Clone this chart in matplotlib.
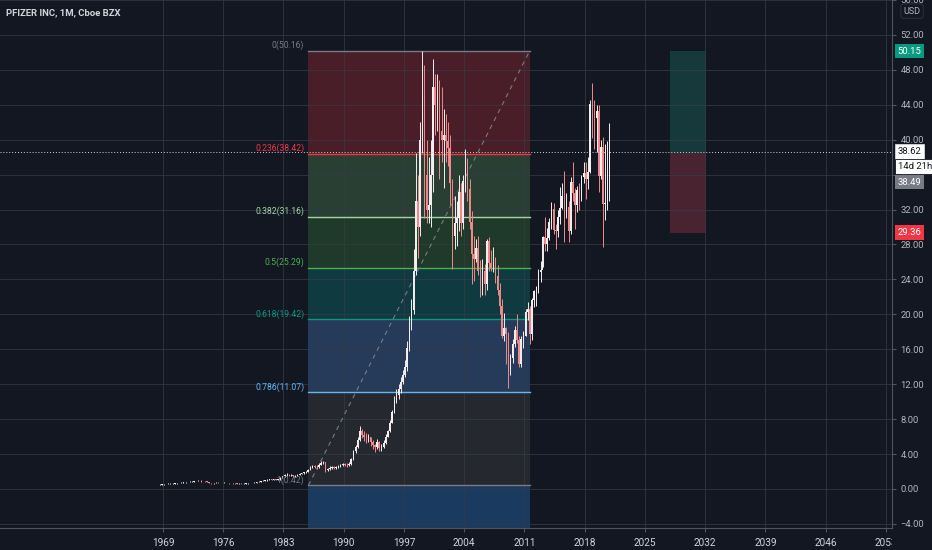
import matplotlib
matplotlib.use("Agg")
import matplotlib.pyplot as plt
import matplotlib.transforms as mtransforms
import numpy as np

# quarterly closes / highs / lows, 1968 Q1 .. 2020 Q4
closes = [
    0.45, 0.47, 0.50, 0.55,  0.55, 0.58, 0.60, 0.62,  0.62, 0.65, 0.68, 0.70,
    0.72, 0.75, 0.78, 0.80,  0.82, 0.85, 0.88, 0.92,  0.95, 0.90, 0.92, 0.88,
    0.80, 0.70, 0.65, 0.70,  0.72, 0.70, 0.68, 0.70,  0.70, 0.68, 0.66, 0.68,
    0.66, 0.64, 0.62, 0.62,  0.60, 0.62, 0.65, 0.66,  0.68, 0.70, 0.72, 0.78,
    0.85, 0.90, 0.95, 1.00,  1.05, 1.10, 1.05, 1.10,  1.05, 1.10, 1.25, 1.45,
    1.60, 1.65, 1.55, 1.60,  1.45, 1.50, 1.65, 1.75,  1.80, 1.90, 2.00, 2.20,
    2.45, 2.60, 2.55, 2.50,  2.80, 3.00, 3.05, 2.20,  2.30, 2.45, 2.50, 2.40,
    2.50, 2.60, 2.75, 2.85,  2.80, 2.70, 2.90, 3.40,  4.30, 4.80, 5.60, 6.60,
    6.20, 6.00, 5.80, 5.90,  5.40, 5.00, 4.80, 5.40,  4.70, 4.80, 5.30, 6.00,
    6.60, 7.60, 8.80, 10.20,  10.80, 11.40, 12.20, 13.00,  14.00, 16.20, 19.00, 20.50,
    25.00, 33.00, 30.00, 40.00,  45.00, 36.00, 32.00, 32.50,  36.00, 46.00, 44.00, 45.50,
    41.00, 40.00, 40.50, 39.80,  39.00, 35.00, 29.00, 30.50,  31.00, 34.00, 30.50, 35.30,
    36.50, 34.30, 30.60, 26.90,  26.30, 27.60, 25.00, 23.30,  25.00, 23.50, 28.40, 25.90,
    25.30, 25.60, 24.40, 22.80,  20.90, 17.50, 18.40, 17.70,  13.60, 15.00, 16.60, 18.20,
    17.10, 14.30, 17.20, 17.50,  20.30, 20.60, 17.70, 21.60,  22.70, 23.00, 24.80, 25.10,
    28.90, 28.00, 28.70, 30.60,  32.10, 29.70, 29.60, 31.20,  32.20, 33.50, 31.40, 32.30,
    29.60, 35.20, 33.90, 32.50,  34.20, 33.60, 35.70, 36.20,  35.50, 36.30, 44.10, 43.60,
    42.50, 43.30, 35.90, 39.20,  32.60, 32.70, 36.70, 38.62,
]
highs = [
    0.48, 0.50, 0.53, 0.58,  0.59, 0.61, 0.63, 0.66,  0.66, 0.68, 0.71, 0.74,
    0.76, 0.79, 0.82, 0.84,  0.86, 0.89, 0.93, 0.97,  1.02, 1.00, 0.97, 0.95,
    0.90, 0.82, 0.74, 0.74,  0.76, 0.75, 0.73, 0.74,  0.75, 0.73, 0.71, 0.72,
    0.70, 0.69, 0.66, 0.66,  0.65, 0.66, 0.69, 0.70,  0.72, 0.74, 0.77, 0.82,
    0.89, 0.95, 1.00, 1.06,  1.12, 1.16, 1.14, 1.16,  1.14, 1.16, 1.32, 1.52,
    1.70, 1.78, 1.70, 1.68,  1.62, 1.58, 1.72, 1.82,  1.88, 1.98, 2.10, 2.30,
    2.60, 2.80, 2.75, 2.70,  2.95, 3.15, 3.25, 3.10,  2.45, 2.60, 2.65, 2.60,
    2.65, 2.75, 2.90, 3.00,  3.00, 2.95, 3.05, 3.60,  4.50, 5.00, 5.90, 7.20,
    6.90, 6.60, 6.40, 6.30,  6.00, 5.60, 5.20, 5.70,  5.50, 5.10, 5.60, 6.30,
    6.80, 7.90, 9.10, 10.60,  11.40, 12.00, 12.80, 13.60,  14.80, 16.90, 19.80, 21.80,
    27.50, 38.50, 36.00, 42.00,  50.16, 48.50, 40.00, 38.00,  40.00, 49.30, 47.50, 47.50,
    46.80, 46.00, 43.50, 43.00,  42.00, 40.50, 35.50, 33.50,  33.00, 36.00, 35.00, 36.00,
    38.90, 37.90, 35.50, 31.80,  29.00, 28.60, 29.00, 26.20,  26.30, 25.80, 28.60, 28.90,
    27.40, 27.70, 26.60, 25.60,  23.60, 21.80, 20.10, 18.50,  18.00, 15.50, 17.20, 18.70,
    20.00, 17.50, 17.50, 18.10,  20.60, 21.40, 20.90, 21.90,  22.80, 23.20, 25.20, 26.10,
    29.00, 31.10, 29.90, 31.00,  32.90, 32.70, 30.40, 32.00,  34.60, 35.00, 36.40, 33.90,
    33.00, 35.70, 37.40, 34.50,  34.70, 35.00, 36.00, 37.40,  37.50, 38.00, 44.60, 46.50,
    44.50, 44.00, 44.00, 40.00,  40.30, 39.50, 39.80, 41.90,
]
lows = [
    0.40, 0.43, 0.45, 0.49,  0.51, 0.53, 0.56, 0.58,  0.57, 0.59, 0.62, 0.65,
    0.67, 0.70, 0.73, 0.75,  0.77, 0.80, 0.83, 0.86,  0.88, 0.85, 0.86, 0.82,
    0.76, 0.66, 0.58, 0.62,  0.66, 0.66, 0.64, 0.65,  0.66, 0.64, 0.62, 0.63,
    0.62, 0.60, 0.58, 0.58,  0.56, 0.57, 0.60, 0.61,  0.63, 0.65, 0.67, 0.70,
    0.76, 0.82, 0.87, 0.91,  0.96, 1.01, 0.98, 1.00,  0.98, 1.00, 1.05, 1.22,
    1.40, 1.52, 1.48, 1.50,  1.38, 1.40, 1.48, 1.60,  1.66, 1.74, 1.84, 1.95,
    2.15, 2.35, 2.35, 2.30,  2.45, 2.70, 2.85, 2.00,  2.10, 2.20, 2.30, 2.25,
    2.30, 2.40, 2.50, 2.60,  2.60, 2.55, 2.60, 2.75,  3.35, 4.10, 4.70, 5.50,
    5.80, 5.50, 5.30, 5.40,  4.90, 4.60, 4.20, 4.60,  4.40, 4.30, 4.70, 5.20,
    5.90, 6.50, 7.50, 8.70,  9.90, 10.30, 11.00, 12.00,  12.80, 13.50, 15.80, 18.20,
    20.00, 24.50, 26.50, 29.00,  38.50, 31.00, 30.50, 30.50,  30.00, 34.00, 40.50, 41.00,
    35.50, 37.50, 34.50, 37.50,  37.00, 32.50, 25.20, 27.50,  27.80, 29.50, 29.00, 29.80,
    34.00, 33.00, 29.80, 23.50,  23.80, 26.00, 24.50, 22.00,  22.20, 22.20, 22.80, 25.00,
    25.00, 24.80, 23.60, 22.20,  20.00, 17.30, 16.90, 14.30,  11.60, 13.00, 14.40, 16.30,
    16.70, 14.00, 14.00, 16.20,  17.50, 19.40, 16.60, 17.10,  20.80, 20.90, 22.40, 23.70,
    25.40, 27.30, 27.20, 28.50,  29.80, 29.20, 27.50, 28.90,  30.30, 32.10, 28.30, 31.00,
    28.30, 29.20, 33.00, 29.80,  31.70, 32.00, 33.00, 35.00,  33.20, 34.30, 36.20, 40.20,
    38.90, 38.60, 34.00, 35.50,  27.70, 30.80, 32.00, 33.00,
]
first_year = 1968
first_open = 0.42

# fibonacci retracement
fib_start, fib_end = 1985.9, 2011.6
fib_levels = [0, 0.236, 0.382, 0.5, 0.618, 0.786, 1, 1.618]
fib_prices = [50.16, 38.42, 31.16, 25.29, 19.42, 11.07, 0.42, -30.06]
fib_colors = ['#787b86', '#f23645', '#a5d6a7', '#4caf50', '#089981', '#64b5f6', '#787b86', '#2962ff']
zone_colors = ['#4a1e28', '#2a3f33', '#1f3a2a', '#0f3a40', '#263a5a', '#262830', '#1a3a60']

# long/short position box
pos_start, pos_end = 2027.9, 2032.07
target, entry, stop = 50.15, 38.49, 29.36
last_price = 38.62

BG = '#131722'
GRID = '#363a45'
TXT = '#b2b5be'
UP = '#f4eef0'
DOWN = '#f08a8a'

plt.rcParams['font.family'] = ['Roboto', 'DejaVu Sans']

fig = plt.figure(figsize=(9.32, 5.5), dpi=100, facecolor=BG)
ax = fig.add_axes([0, 22 / 550, 892 / 932, 528 / 550])
ax.set_facecolor(BG)
ax.set_xlim(1950.07, 2053.7)
ax.set_ylim(-4.47, 56.0)

years = np.arange(1969, 2054, 7)
ax.set_xticks(years)
ax.set_xticklabels([str(y) for y in years])
ax.set_yticks(np.arange(-4, 57, 4))
ax.set_yticklabels(['%.2f' % v if v >= 0 else '\u2212%.2f' % -v for v in np.arange(-4, 57, 4)])
ax.yaxis.tick_right()
ax.grid(True, color=GRID, lw=0.7, alpha=0.75)
ax.set_axisbelow(True)
ax.tick_params(axis='both', colors='#50535e', labelcolor=TXT, labelsize=6.8, length=3, width=0.8)
ax.tick_params(axis='x', labelcolor='#d1d4dc', labelsize=7.2, pad=4)
ax.tick_params(axis='y', pad=3)
for s in ['top', 'left']:
    ax.spines[s].set_visible(False)
for s in ['right', 'bottom']:
    ax.spines[s].set_color('#50535e')
    ax.spines[s].set_linewidth(0.8)

# fib zones (below the grid) and lines
for i in range(1, len(fib_levels)):
    ax.fill_between([fib_start, fib_end], fib_prices[i - 1], fib_prices[i],
                    color=zone_colors[i - 1], lw=0, zorder=0.2)
for lv, pr, col in zip(fib_levels, fib_prices, fib_colors):
    if lv > 1:
        continue
    ax.plot([fib_start, fib_end], [pr, pr], color=col, lw=1.0, zorder=2)
    ax.annotate('%g(%.2f)' % (lv, pr), (fib_start, pr), xytext=(-3, 0.5),
                textcoords='offset points', ha='right', va='bottom',
                color=col, fontsize=6.2, zorder=4)
ax.plot([fib_start, fib_end], [fib_prices[6], fib_prices[0]], color='#787b86',
        lw=0.8, ls=(0, (4, 4)), zorder=2)

# position box
ax.fill_between([pos_start, pos_end], entry, target, color='#163a3c', lw=0, zorder=0.2)
ax.fill_between([pos_start, pos_end], stop, entry, color='#4a2330', lw=0, zorder=0.2)

# candles
opens = [first_open] + closes[:-1]
xs = first_year + (np.arange(len(closes)) + 0.5) / 4
o = np.array(opens)
c = np.array(closes)
cols = [UP if cc >= oo else DOWN for oo, cc in zip(o, c)]
ax.vlines(xs, lows, highs, colors=cols, lw=0.7, zorder=3)
ax.bar(xs, np.abs(c - o), bottom=np.minimum(o, c), width=0.17, color=cols, lw=0, zorder=3)

# last price line
ax.axhline(last_price, color='#d1d4dc', lw=0.7, ls=(0, (1, 2)), zorder=3)

# price axis labels
yt = mtransforms.blended_transform_factory(ax.transAxes, ax.transData)
def price_tag(y, s, fc, tc, dy=0, ec='none'):
    ax.annotate(s, (1.0, y), xycoords=yt, xytext=(4, dy), textcoords='offset points',
                ha='left', va='center', fontsize=6.8, color=tc, annotation_clip=False,
                bbox=dict(boxstyle='square,pad=0.3', fc=fc, ec=ec, lw=0.6), zorder=6)

price_tag(target, '%.2f' % target, '#089981', 'white')
price_tag(stop, '%.2f' % stop, '#f23645', 'white')
price_tag(entry, '%.2f' % entry, '#787b86', 'white', dy=-21)
price_tag(last_price, '%.2f' % last_price, 'white', '#131722', ec='#d1d4dc')
price_tag(last_price, '14d 21h', 'white', '#131722', dy=-10.5, ec='#131722')
ax.text(1.013, 0.979, 'USD', transform=ax.transAxes, ha='left', va='center',
        fontsize=6.5, color=TXT,
        bbox=dict(boxstyle='round,pad=0.3,rounding_size=0.3', fc=BG, ec='#2a2e39', lw=0.8))

fig.text(6 / 932, 1 - 13 / 550, 'PFIZER INC, 1M, Cboe BZX', color='#d1d4dc',
         fontsize=6.8, fontweight='bold', va='center', ha='left')

# clip the last year label at the price scale border
clip = mtransforms.TransformedBbox(mtransforms.Bbox([[0, 0], [892 / 932, 1]]), fig.transFigure)
for lbl in ax.get_xticklabels():
    lbl.set_clip_box(clip)
    lbl.set_clip_on(True)

fig.savefig('out.png', dpi=100, facecolor=BG)
